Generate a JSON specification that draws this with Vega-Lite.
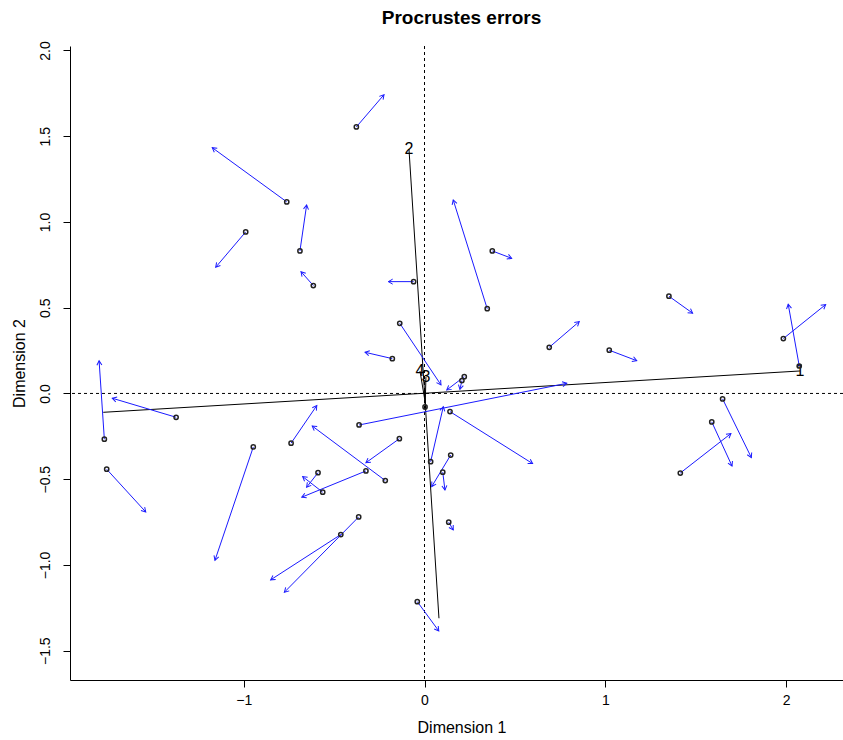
{
  "$schema": "https://vega.github.io/schema/vega-lite/v6.json",
  "autosize": {"type": "none"},
  "padding": {"left": 70, "top": 46, "right": 0, "bottom": 60},
  "width": 773,
  "height": 634,
  "background": "white",
  "title": {
    "text": "Procrustes errors",
    "font": "Liberation Sans",
    "fontSize": 19,
    "fontWeight": "bold",
    "color": "black",
    "anchor": "middle",
    "frame": "group",
    "dx": 5,
    "baseline": "alphabetic",
    "offset": -2
  },
  "config": {
    "view": {"stroke": null},
    "axis": {
      "grid": false,
      "domainColor": "black",
      "tickColor": "black",
      "labelColor": "black",
      "titleColor": "black",
      "labelFont": "Liberation Sans",
      "titleFont": "Liberation Sans",
      "labelFontSize": 14,
      "titleFontSize": 16,
      "titleFontWeight": "normal",
      "tickSize": 7,
      "domainWidth": 1,
      "tickWidth": 1
    }
  },
  "datasets": {
    "arrows": [
      {"x0": -0.377, "y0": 1.554, "x1": -0.224, "y1": 1.742},
      {"x0": -0.762, "y0": 1.117, "x1": -1.174, "y1": 1.433},
      {"x0": -0.689, "y0": 0.831, "x1": -0.652, "y1": 1.099},
      {"x0": -0.989, "y0": 0.942, "x1": -1.155, "y1": 0.736},
      {"x0": -0.615, "y0": 0.629, "x1": -0.683, "y1": 0.710},
      {"x0": -0.060, "y0": 0.652, "x1": -0.200, "y1": 0.652},
      {"x0": -0.137, "y0": 0.409, "x1": 0.091, "y1": 0.050},
      {"x0": -0.178, "y0": 0.203, "x1": -0.329, "y1": 0.240},
      {"x0": -1.771, "y0": -0.267, "x1": -1.800, "y1": 0.190},
      {"x0": -1.374, "y0": -0.139, "x1": -1.727, "y1": -0.028},
      {"x0": -1.758, "y0": -0.442, "x1": -1.542, "y1": -0.691},
      {"x0": -0.947, "y0": -0.312, "x1": -1.159, "y1": -0.973},
      {"x0": -0.738, "y0": -0.290, "x1": -0.596, "y1": -0.071},
      {"x0": -0.217, "y0": -0.508, "x1": -0.621, "y1": -0.190},
      {"x0": -0.139, "y0": -0.264, "x1": -0.324, "y1": -0.404},
      {"x0": -0.362, "y0": -0.184, "x1": 0.787, "y1": 0.059},
      {"x0": -0.324, "y0": -0.452, "x1": -0.679, "y1": -0.605},
      {"x0": -0.589, "y0": -0.462, "x1": -0.652, "y1": -0.547},
      {"x0": -0.563, "y0": -0.576, "x1": -0.674, "y1": -0.485},
      {"x0": -0.364, "y0": -0.720, "x1": -0.775, "y1": -1.159},
      {"x0": -0.463, "y0": -0.823, "x1": -0.851, "y1": -1.087},
      {"x0": -0.040, "y0": -1.214, "x1": 0.079, "y1": -1.385},
      {"x0": 0.347, "y0": 0.494, "x1": 0.159, "y1": 1.128},
      {"x0": 0.375, "y0": 0.831, "x1": 0.482, "y1": 0.788},
      {"x0": 0.690, "y0": 0.269, "x1": 0.856, "y1": 0.419},
      {"x0": 1.352, "y0": 0.567, "x1": 1.483, "y1": 0.468},
      {"x0": 1.022, "y0": 0.252, "x1": 1.174, "y1": 0.191},
      {"x0": 1.985, "y0": 0.320, "x1": 2.219, "y1": 0.518},
      {"x0": 2.073, "y0": 0.160, "x1": 2.012, "y1": 0.520},
      {"x0": 1.649, "y0": -0.032, "x1": 1.808, "y1": -0.374},
      {"x0": 1.589, "y0": -0.166, "x1": 1.701, "y1": -0.423},
      {"x0": 1.415, "y0": -0.464, "x1": 1.695, "y1": -0.234},
      {"x0": 0.141, "y0": -0.106, "x1": 0.598, "y1": -0.409},
      {"x0": 0.220, "y0": 0.098, "x1": 0.123, "y1": 0.020},
      {"x0": 0.207, "y0": 0.075, "x1": 0.196, "y1": 0.024},
      {"x0": 0.034, "y0": -0.398, "x1": 0.104, "y1": -0.077},
      {"x0": 0.145, "y0": -0.359, "x1": 0.040, "y1": -0.543},
      {"x0": 0.101, "y0": -0.459, "x1": 0.113, "y1": -0.563},
      {"x0": 0.134, "y0": -0.751, "x1": 0.159, "y1": -0.796}
    ],
    "rotaxes": [
      {"label": "1", "xa": -1.777, "ya": -0.110, "xb": 2.077, "yb": 0.131},
      {"label": "2", "xa": 0.080, "ya": -1.311, "xb": -0.086, "yb": 1.426},
      {"label": "3", "xa": 0.003, "ya": -0.096, "xb": 0.008, "yb": 0.096},
      {"label": "4", "xa": 0.010, "ya": -0.090, "xb": -0.025, "yb": 0.131}
    ]
  },
  "layer": [
    {
      "data": {"values": [{"v": 0}]},
      "mark": {"type": "rule", "color": "black", "strokeWidth": 1, "strokeDash": [3, 3]},
      "encoding": {
        "y": {"field": "v", "type": "quantitative", "scale": {"domain": [-1.671, 2.026], "nice": false, "zero": false},
          "axis": {"values": [-1.5, -1, -0.5, 0, 0.5, 1, 1.5, 2], "format": ".1f", "labelAngle": 270, "labelAlign": "center", "labelBaseline": "alphabetic", "labelPadding": 14, "title": "Dimension 2", "titleAngle": 270, "titleAlign": "center", "titleBaseline": "alphabetic", "titleX": -46, "titleY": 317}}
      }
    },
    {
      "data": {"values": [{"v": 0}]},
      "mark": {"type": "rule", "color": "black", "strokeWidth": 1, "strokeDash": [3, 3]},
      "encoding": {
        "x": {"field": "v", "type": "quantitative", "scale": {"domain": [-1.961, 2.315], "nice": false, "zero": false},
          "axis": {"values": [-1, 0, 1, 2], "format": "d", "labelPadding": 6, "title": "Dimension 1", "titleAlign": "center", "titleBaseline": "alphabetic", "titleX": 391.5, "titleY": 52}}
      }
    },
    {
      "data": {"name": "rotaxes"},
      "mark": {"type": "rule", "color": "black", "strokeWidth": 1},
      "encoding": {
        "x": {"field": "xa", "type": "quantitative"},
        "y": {"field": "ya", "type": "quantitative"},
        "x2": {"field": "xb"},
        "y2": {"field": "yb"}
      }
    },
    {
      "data": {"name": "rotaxes"},
      "mark": {"type": "text", "color": "black", "font": "Liberation Sans", "fontSize": 16, "align": "center", "baseline": "middle"},
      "encoding": {
        "x": {"field": "xb", "type": "quantitative"},
        "y": {"field": "yb", "type": "quantitative"},
        "text": {"field": "label"}
      }
    },
    {
      "data": {"name": "arrows"},
      "mark": {"type": "rule", "color": "#1a1aff", "strokeWidth": 1},
      "encoding": {
        "x": {"field": "x0", "type": "quantitative"},
        "y": {"field": "y0", "type": "quantitative"},
        "x2": {"field": "x1"},
        "y2": {"field": "y1"}
      }
    },
    {
      "data": {"name": "arrows"},
      "transform": [
        {"calculate": "atan2((datum.x1 - datum.x0) * 180.8, (datum.y1 - datum.y0) * 171.5) * 180 / PI", "as": "ang"}
      ],
      "mark": {"type": "point", "shape": "M -0.5 0.866 L 0 0 L 0.5 0.866", "filled": false, "stroke": "#1a1aff", "strokeWidth": 1, "size": 100, "opacity": 1},
      "encoding": {
        "x": {"field": "x1", "type": "quantitative"},
        "y": {"field": "y1", "type": "quantitative"},
        "angle": {"field": "ang", "type": "quantitative", "scale": null}
      }
    },
    {
      "data": {"name": "arrows"},
      "mark": {"type": "point", "shape": "circle", "filled": false, "stroke": "#222222", "strokeWidth": 1.5, "size": 18, "opacity": 1},
      "encoding": {
        "x": {"field": "x0", "type": "quantitative"},
        "y": {"field": "y0", "type": "quantitative"}
      }
    },
    {
      "data": {"values": [{"px": 0.003, "py": -0.079}]},
      "mark": {"type": "point", "shape": "circle", "filled": false, "stroke": "#222222", "strokeWidth": 1.5, "size": 18, "opacity": 1},
      "encoding": {
        "x": {"field": "px", "type": "quantitative"},
        "y": {"field": "py", "type": "quantitative"}
      }
    }
  ]
}
